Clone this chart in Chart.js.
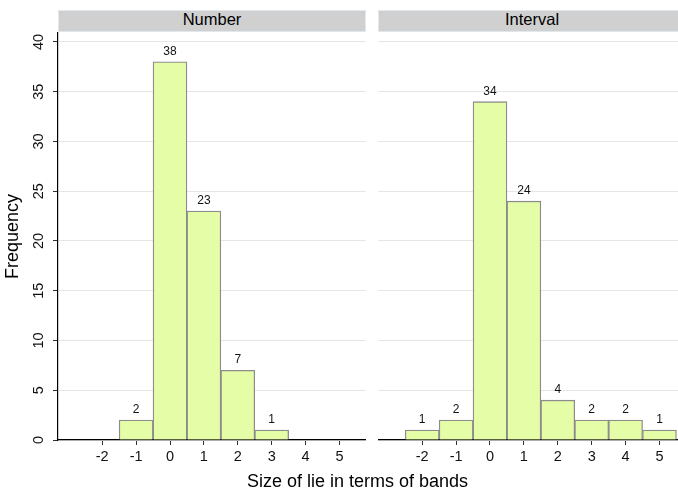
<!DOCTYPE html>
<html>
<head>
<meta charset="utf-8">
<script src="https://cdn.jsdelivr.net/npm/chart.js@4/dist/chart.umd.min.js"></script>
<style>
html, body { margin:0; padding:0; width:678px; height:490px; overflow:hidden; background:#fff; }
#wrap { position:relative; width:678px; height:490px; overflow:hidden; font-family:"Liberation Sans", Arial, sans-serif; }
.strip { position:absolute; top:10px; height:22px; background:#d0d0d0; box-sizing:border-box; border:1px solid #e0e8ed;
         text-align:center; font-size:16.5px; line-height:17px; color:#000; white-space:nowrap; }
#xtitle { position:absolute; left:0; width:715px; top:471px; text-align:center; font-size:18px; line-height:20px; color:#000; white-space:nowrap; }
canvas { position:absolute; top:0; }
</style>
</head>
<body>
<div id="wrap">
  <div class="strip" id="s1" style="left:58px; width:308px;"></div>
  <div class="strip" id="s2" style="left:378px; width:308px;"></div>
  <canvas id="c1" width="366" height="490" style="left:0;"></canvas>
  <canvas id="c2" width="308" height="490" style="left:378px;"></canvas>
  <div id="xtitle"></div>
</div>
<script>
// ---- data ----
const panelTitles = ["Number", "Interval"];
const numberBins = [-1, 0, 1, 2, 3];
const numberCounts = [2, 38, 23, 7, 1];
const intervalBins = [-2, -1, 0, 1, 2, 3, 4, 5];
const intervalCounts = [1, 2, 34, 24, 4, 2, 2, 1];
const xTickValues = [-2, -1, 0, 1, 2, 3, 4, 5];
const yTickStep = 5;
const xAxisTitle = "Size of lie in terms of bands";
const yAxisTitle = "Frequency";

// ---- styles ----
const FONT = '"Liberation Sans", Arial, sans-serif';
const BAR_FILL = 'rgb(230,253,168)';
const BAR_EDGE = '#8c8c8c';
const GRID = '#e6e6e6';
const X_MIN = -3.304, X_MAX = 5.782, Y_MAX = 40.9;

document.getElementById('s1').textContent = panelTitles[0];
document.getElementById('s2').textContent = panelTitles[1];
document.getElementById('xtitle').textContent = xAxisTitle;

const valueLabels = {
  id: 'valueLabels',
  afterDatasetsDraw(chart) {
    const ctx = chart.ctx;
    const ds = chart.data.datasets[0];
    const meta = chart.getDatasetMeta(0);
    ctx.save();
    ctx.font = '12px ' + FONT;
    ctx.fillStyle = '#111';
    ctx.textAlign = 'center';
    ctx.textBaseline = 'alphabetic';
    meta.data.forEach((bar, i) => {
      ctx.fillText(String(ds.data[i].y), bar.x, bar.y - 7);
    });
    ctx.restore();
  }
};

function makeChart(id, bins, counts, showY) {
  const yScale = showY ? {
    min: 0, max: Y_MAX,
    border: { display: true, color: '#000', width: 1.2 },
    grid: { color: GRID, lineWidth: 1, drawTicks: true, tickLength: 5, tickColor: '#333', tickWidth: 1 },
    ticks: { stepSize: yTickStep, includeBounds: false, minRotation: 90, maxRotation: 90, crossAlign: 'center',
             padding: 6, font: { family: FONT, size: 14.5 }, color: '#111', callback: v => String(v) },
    title: { display: true, text: yAxisTitle, font: { family: FONT, size: 18 }, color: '#000', padding: { top: 2, bottom: 0 } },
    afterFit: s => { s.width = 58; }
  } : {
    min: 0, max: Y_MAX,
    border: { display: false },
    grid: { color: GRID, lineWidth: 1, drawTicks: false },
    ticks: { stepSize: yTickStep, includeBounds: false, display: false },
    afterFit: s => { s.width = 0; }
  };
  return new Chart(document.getElementById(id), {
    type: 'bar',
    data: {
      datasets: [{
        data: bins.map((b, i) => ({ x: b, y: counts[i] })),
        backgroundColor: BAR_FILL,
        borderColor: BAR_EDGE,
        borderWidth: 1.3,
        barPercentage: 1,
        categoryPercentage: 1
      }]
    },
    options: {
      responsive: false,
      animation: false,
      devicePixelRatio: 1,
      layout: { padding: { top: 33, left: 0, right: 0, bottom: 0 } },
      plugins: { legend: { display: false }, tooltip: { enabled: false }, title: { display: false } },
      scales: {
        x: {
          type: 'linear', min: X_MIN, max: X_MAX, offset: false,
          grid: { offset: false, drawOnChartArea: false, drawTicks: true, tickLength: 5, tickColor: '#333', tickWidth: 1 },
          border: { display: true, color: '#000', width: 1.2 },
          ticks: { font: { family: FONT, size: 14.5 }, color: '#111', padding: 3, maxRotation: 0, autoSkip: false,
                   includeBounds: false, callback: v => String(v) },
          afterBuildTicks: s => { s.ticks = xTickValues.map(v => ({ value: v })); },
          afterFit: s => { s.height = 50; }
        },
        y: yScale
      }
    },
    plugins: [valueLabels]
  });
}

makeChart('c1', numberBins, numberCounts, true);
makeChart('c2', intervalBins, intervalCounts, false);
</script>
</body>
</html>
